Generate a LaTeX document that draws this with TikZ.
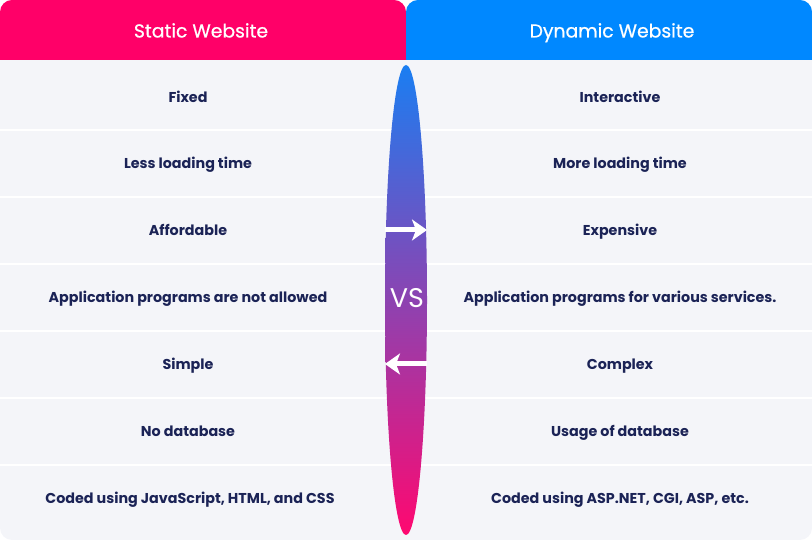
\documentclass[tikz,border=0pt]{standalone}
\usepackage{fontspec}
\setmainfont{Poppins}
\newfontfamily\headfont{Poppins}[FakeBold=0.6]
\usetikzlibrary{arrows.meta}
\definecolor{staticpink}{HTML}{FF0068}
\definecolor{dynamicblue}{HTML}{0088FF}
\definecolor{rowgray}{HTML}{F4F5F9}
\definecolor{navytext}{HTML}{1B2356}
\definecolor{vstop}{HTML}{1A7EF2}
\definecolor{vsmid}{HTML}{6A48BE}
\definecolor{vsbottom}{HTML}{FF0870}

\begin{document}
\begin{tikzpicture}[x=1pt, y=1pt,
    rowtext/.style={text=navytext, font=\bfseries\fontsize{14.3}{16}\selectfont, text height=10pt, text depth=0pt},
    headtext/.style={text=white, font=\headfont\fontsize{18.8}{21}\selectfont, text height=13pt, text depth=0pt}]
    \useasboundingbox (0,0) rectangle (812,540);
    % body
    \begin{scope}
        \clip (0,0) rectangle (812,480);
        \fill[rowgray, rounded corners=12] (0,0) rectangle (812,500);
    \end{scope}
    % header
    \begin{scope}
        \clip (0,480) rectangle (812,540);
        \fill[staticpink, rounded corners=12] (0,460) rectangle (406,540);
        \fill[dynamicblue, rounded corners=12] (406,460) rectangle (812,540);
    \end{scope}
    \node[headtext] (statichead) at (201,509) {Static Website};
    \node[headtext] (dynamichead) at (612,509) {Dynamic Website};
    % row separators
    \draw[white, line width=2.5] (0,410) -- (812,410);
    \draw[white, line width=2.5] (0,343) -- (812,343);
    \draw[white, line width=2.5] (0,276) -- (812,276);
    \draw[white, line width=2.5] (0,209) -- (812,209);
    \draw[white, line width=2.5] (0,142) -- (812,142);
    \draw[white, line width=2.5] (0,75) -- (812,75);
    % rows
    \node[rowtext] (fixed) at (188,442) {Fixed};
    \node[rowtext] (lessload) at (188,376) {Less loading time};
    \node[rowtext] (affordable) at (188,309) {Affordable};
    \node[rowtext] (noapps) at (188,242) {Application programs are not allowed};
    \node[rowtext] (simple) at (188,175) {Simple};
    \node[rowtext] (nodb) at (188,108) {No database};
    \node[rowtext] (codedjs) at (190,41) {Coded using JavaScript, HTML, and CSS};
    \node[rowtext] (interactive) at (620,442) {Interactive};
    \node[rowtext] (moreload) at (620,376) {More loading time};
    \node[rowtext] (expensive) at (620,309) {Expensive};
    \node[rowtext] (apps) at (620,242) {Application programs for various services.};
    \node[rowtext] (complex) at (620,175) {Complex};
    \node[rowtext] (usedb) at (620,108) {Usage of database};
    \node[rowtext] (codedasp) at (620,41) {Coded using ASP.NET, CGI, ASP, etc.};
    % vs ellipse
    \shade[top color=vstop, middle color=vsmid, bottom color=vsbottom] (406,240) ellipse (21 and 235);
    \node[text=white, font=\fontsize{27}{27}\selectfont, text height=19pt, text depth=0pt] (vs) at (407,242) {VS};
    \coordinate (fwdstart) at (385,310);
    \coordinate (fwdend) at (427,310);
    \coordinate (backstart) at (427,176);
    \coordinate (backend) at (385,176);
    \draw[white, line width=5, -{Stealth[length=15, width=21, inset=4]}] (fwdstart) -- (fwdend);
    \draw[white, line width=5, -{Stealth[length=15, width=21, inset=4]}] (backstart) -- (backend);
\end{tikzpicture}
\end{document}
